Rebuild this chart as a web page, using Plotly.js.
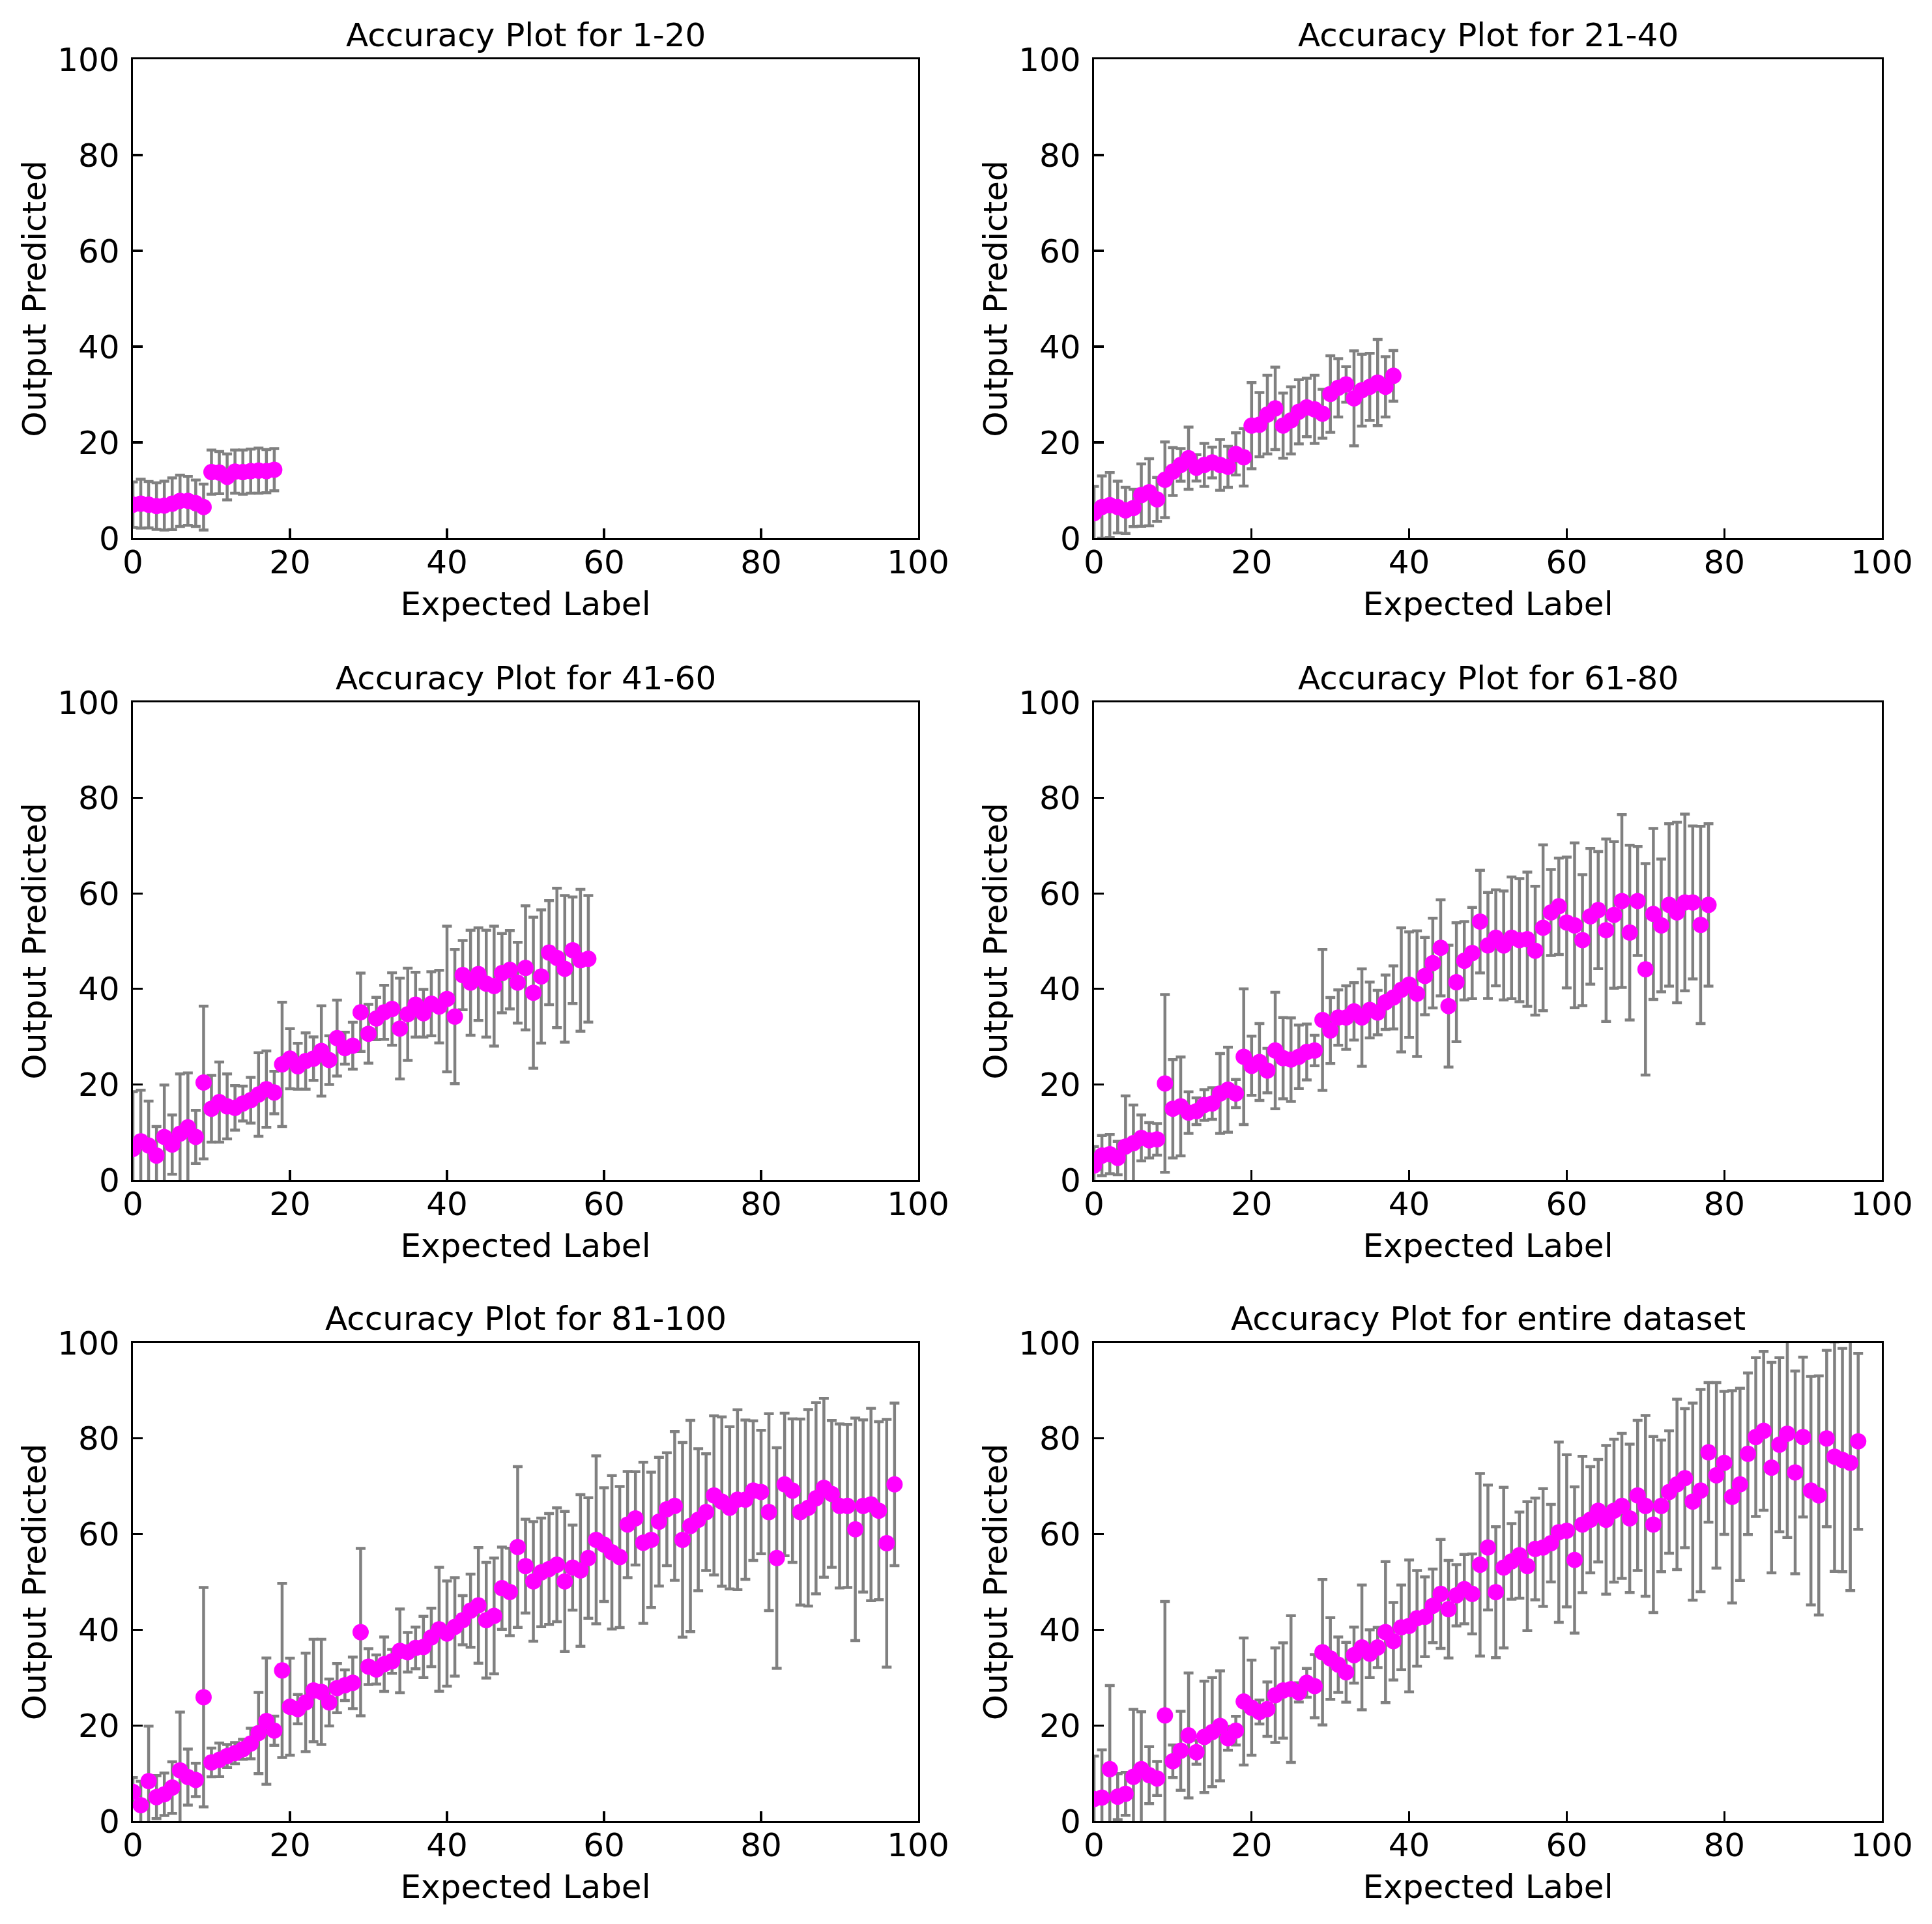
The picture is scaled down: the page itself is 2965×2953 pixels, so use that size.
<!DOCTYPE html>
<html><head><meta charset="utf-8">
<script src="https://cdn.plot.ly/plotly-3.0.1.min.js"></script>
<style>html,body{margin:0;padding:0;background:#fff}</style>
</head><body><div id="chart" style="width:2965px;height:2953px"></div>
<script>
const titles = ["Accuracy Plot for 1-20","Accuracy Plot for 21-40","Accuracy Plot for 41-60",
  "Accuracy Plot for 61-80","Accuracy Plot for 81-100","Accuracy Plot for entire dataset"];
const tickVals = [0,20,40,60,80,100];
const tickText = ["0","20","40","60","80","100"];

const mean1 = [7.0,7.2,7.0,6.7,6.8,7.2,7.8,7.8,7.3,6.5,13.8,13.7,12.8,13.9,13.8,14.0,14.1,14.0,14.3];
const std1  = [4.75,5.1,4.85,4.85,5.1,5.4,5.35,5.1,4.85,4.8,4.6,4.4,4.8,4.5,4.6,4.6,4.7,4.5,4.4];

const mean2 = [5.2,6.5,6.9,6.5,5.8,6.3,9.0,9.6,8.1,12.2,13.9,15.3,16.7,14.7,15.3,15.8,15.3,14.9,17.6,16.9,
  23.5,23.7,25.8,27.1,23.5,24.6,26.4,27.3,26.9,26.0,30.1,31.4,32.1,29.2,30.9,31.6,32.5,31.6,33.9];
const std2  = [5.6,6.5,6.8,5.4,4.8,3.9,6.5,7.0,4.6,7.9,5.0,3.4,6.5,2.75,4.5,3.2,5.3,4.3,4.4,6.0,
  9.0,6.7,8.2,8.6,6.8,7.0,6.7,6.1,7.1,5.1,8.0,6.1,3.7,9.9,7.5,7.0,9.0,6.3,5.3];

const mean3 = [6.5,8.1,7.2,5.1,9.0,7.4,9.7,11.0,9.0,20.4,
  14.9,16.3,15.4,15.1,16.0,16.7,17.9,19.0,18.3,24.2,
  25.4,23.8,24.9,25.4,27.0,25.1,29.7,27.6,28.1,35.1,
  30.6,33.8,35.1,35.8,31.7,34.7,36.7,34.9,36.9,36.3,
  37.9,34.2,42.9,41.3,43.1,41.1,40.6,43.3,44.0,41.3,
  44.4,39.2,42.6,47.6,46.5,44.2,48.1,46.0,46.3];
const std3  = [12.0,10.7,9.3,6.1,10.9,6.2,12.5,11.4,5.55,16.0,
  7.0,8.4,6.8,4.65,3.65,4.8,8.75,8.0,4.45,13.0,
  6.3,4.8,5.9,4.55,9.45,5.1,7.95,3.35,4.9,8.2,
  6.15,4.45,5.65,7.6,10.55,9.65,6.8,5.0,6.7,7.6,
  15.25,14.05,7.25,11.0,9.7,11.2,12.55,8.3,8.2,8.45,
  13.0,15.8,13.95,10.9,14.6,15.35,11.15,14.85,13.25];

const mean4 = [3.0,5.1,5.4,4.6,7.0,7.7,8.8,8.3,8.5,20.2,
  14.9,15.4,14.1,14.4,15.7,16.0,18.1,18.9,18.1,25.8,
  23.9,24.7,22.9,27.1,25.5,25.2,25.8,26.8,27.1,33.5,
  31.3,34.0,34.0,35.3,34.0,35.6,35.05,37.2,38.2,39.8,
  40.9,39.0,42.7,45.4,48.6,36.4,41.4,45.9,47.5,54.1,
  49.1,50.7,49.1,50.7,50.2,50.4,48.0,52.8,56.0,57.3,
  53.9,53.3,50.2,55.2,56.5,52.3,55.5,58.4,51.8,58.4,
  44.1,55.7,53.3,57.6,56.0,58.1,58.1,53.4,57.6];
const std4  = [4.0,4.2,4.1,3.5,10.6,8.0,4.8,3.7,3.3,18.6,
  10.3,10.35,4.35,2.8,3.2,3.3,8.35,8.9,2.95,14.2,
  6.2,8.05,4.65,12.2,8.5,8.75,6.65,5.85,3.2,14.75,
  6.9,5.8,6.65,6.0,10.2,5.85,4.65,5.7,6.6,13.0,
  11.05,13.15,8.1,9.4,10.05,12.75,12.45,8.2,9.55,10.75,
  11.1,10.05,11.4,12.75,12.9,14.05,13.5,17.35,9.0,10.1,
  13.7,17.25,13.7,14.2,12.25,19.1,15.35,18.1,18.3,11.4,
  22.15,17.9,13.9,17.0,18.9,18.5,16.0,20.65,17.0];

const mean5 = [6.1,3.3,8.35,5.0,5.6,7.0,10.6,9.2,8.6,25.9,
  12.25,12.8,13.6,14.2,15.0,16.2,18.4,20.9,18.9,31.5,
  23.9,23.4,24.8,27.3,27.0,24.8,27.8,28.4,28.9,39.5,
  32.3,31.7,32.8,33.4,35.6,35.3,36.2,36.4,38.4,40.1,
  39.2,40.6,42.0,44.0,45.1,42.0,42.9,48.7,47.9,57.3,
  53.3,50.1,52.0,52.7,53.6,50.1,53.0,52.4,55.0,58.8,
  57.8,56.2,55.2,62.0,63.3,58.2,58.8,62.6,65.2,65.9,
  58.8,61.7,63.0,64.6,68.1,66.8,65.5,67.2,67.2,69.1,
  68.8,64.6,55.0,70.4,69.1,64.6,65.5,67.5,69.7,68.4,
  65.9,65.9,61.0,65.9,66.2,64.9,58.1,70.4];
const std5  = [3.0,5.0,11.5,4.5,4.45,5.4,12.2,5.85,3.5,22.95,
  3.0,3.5,2.4,2.2,2.1,3.2,8.5,13.2,3.05,18.2,
  10.15,3.05,10.3,10.7,11.0,4.9,5.15,3.2,5.4,17.5,
  3.75,3.05,5.7,2.5,8.75,4.15,4.35,6.4,6.1,12.95,
  11.0,10.3,5.15,7.65,12.1,12.1,12.1,8.6,9.15,16.8,
  9.8,12.5,11.35,11.6,11.9,14.65,8.9,15.85,12.6,17.55,
  11.9,16.05,14.75,11.1,9.75,16.85,14.15,13.45,11.8,15.55,
  20.35,22.1,14.85,12.2,16.65,17.7,16.95,18.8,16.65,14.6,
  12.9,20.6,23.05,14.9,15.0,19.45,20.55,20.0,18.7,15.35,
  17.15,17.05,23.25,18.0,20.1,18.6,25.9,17.0];

const mean6 = [4.6,4.9,10.85,5.1,5.7,9.25,10.85,9.6,8.9,22.1,
  12.5,14.7,17.9,14.4,17.6,18.6,19.9,17.3,18.9,25.0,
  23.7,22.8,23.4,26.3,27.3,27.6,26.9,28.9,28.2,35.3,
  34.0,32.7,31.1,34.7,36.3,35.0,36.3,39.5,37.6,40.5,
  40.8,42.4,42.7,45.0,47.5,44.3,47.2,48.5,47.5,53.6,
  57.2,47.85,53.0,54.3,55.6,53.3,56.9,57.2,58.1,60.4,
  60.7,54.6,62.0,63.0,64.9,63.0,64.9,65.9,63.3,68.1,
  65.9,62.0,65.9,68.8,70.4,71.7,66.8,69.1,77.1,72.3,
  74.9,67.8,70.4,76.8,80.3,81.6,73.9,78.7,81.0,72.9,
  80.3,69.1,68.1,80.0,76.2,75.5,74.9,79.4];
const std6  = [9.0,10.0,17.5,4.8,4.5,14.1,12.0,5.95,3.55,23.8,
  3.4,8.25,13.05,2.5,11.65,11.4,11.5,2.5,3.0,13.3,
  9.95,2.5,5.7,9.9,9.95,15.35,2.0,3.0,6.6,15.2,
  8.55,5.8,6.25,5.85,13.05,5.0,4.2,14.75,8.1,8.85,
  13.8,10.0,8.35,7.7,11.4,10.2,6.4,7.25,8.35,19.1,
  13.05,13.7,16.8,7.9,9.0,13.5,10.65,12.3,8.1,18.85,
  15.9,15.3,14.25,11.1,10.7,15.55,14.95,15.15,15.5,15.7,
  18.9,18.4,13.75,12.8,17.8,14.55,20.6,21.15,14.6,19.4,
  14.95,22.2,20.1,16.9,16.6,16.6,22.0,18.2,21.7,21.2,
  16.7,23.9,25.0,18.45,24.0,23.35,26.7,18.4];

const means = [mean1,mean2,mean3,mean4,mean5,mean6];
const stds  = [std1,std2,std3,std4,std5,std6];

const W = 2965, H = 2953;
const colPx = [[204,1409],[1679,2888]];
const rowPx = [[91,826],[1078,1811],[2061,2795]];
const FONT = "DejaVu Sans, Liberation Sans, sans-serif";

const data = [];
const layout = {
  width: W, height: H, margin: {l:0,r:0,t:0,b:0},
  paper_bgcolor: "#fff", plot_bgcolor: "#fff",
  showlegend: false, font: {family: FONT, size: 50, color: "#000"},
  annotations: []
};

for (let i = 0; i < 6; i++) {
  const r = Math.floor(i / 2), c = i % 2;
  const xd = [colPx[c][0] / W, colPx[c][1] / W];
  const yd = [1 - rowPx[r][1] / H, 1 - rowPx[r][0] / H];
  const sfx = i === 0 ? "" : String(i + 1);
  const xs = means[i].map((_, k) => k);
  data.push({
    type: "scatter", mode: "markers", x: xs, y: means[i],
    xaxis: "x" + sfx, yaxis: "y" + sfx,
    marker: {color: "#ff00ff", size: 25, line: {width: 0}},
    error_y: {type: "data", array: stds[i], visible: true, color: "#808080", thickness: 4.5, width: 7.5},
    hoverinfo: "skip"
  });
  const common = {
    range: [0, 100], tickmode: "array", tickvals: tickVals, ticktext: tickText,
    ticks: "inside", ticklen: 15, tickwidth: 3.3, tickcolor: "#000",
    showline: true, mirror: true, linewidth: 3.3, linecolor: "#000",
    showgrid: false, zeroline: false, automargin: false, fixedrange: true,
    tickfont: {family: FONT, size: 50, color: "#000"}
  };
  layout["xaxis" + sfx] = Object.assign({}, common, {
    domain: xd, anchor: "y" + sfx, ticklabelstandoff: -9,
    title: {text: "Expected Label", font: {family: FONT, size: 50, color: "#000"}, standoff: 18}
  });
  layout["yaxis" + sfx] = Object.assign({}, common, {
    domain: yd, anchor: "x" + sfx, ticklabelstandoff: 7,
    title: {text: "Output Predicted", font: {family: FONT, size: 50, color: "#000"}, standoff: 2}
  });
  layout.annotations.push({
    text: titles[i], xref: "paper", yref: "paper",
    x: (xd[0] + xd[1]) / 2, y: yd[1], xanchor: "center", yanchor: "bottom",
    yshift: 6, showarrow: false, font: {family: FONT, size: 50, color: "#000"}
  });
}

Plotly.newPlot("chart", data, layout, {staticPlot: true, displayModeBar: false});
</script>
</body></html>
